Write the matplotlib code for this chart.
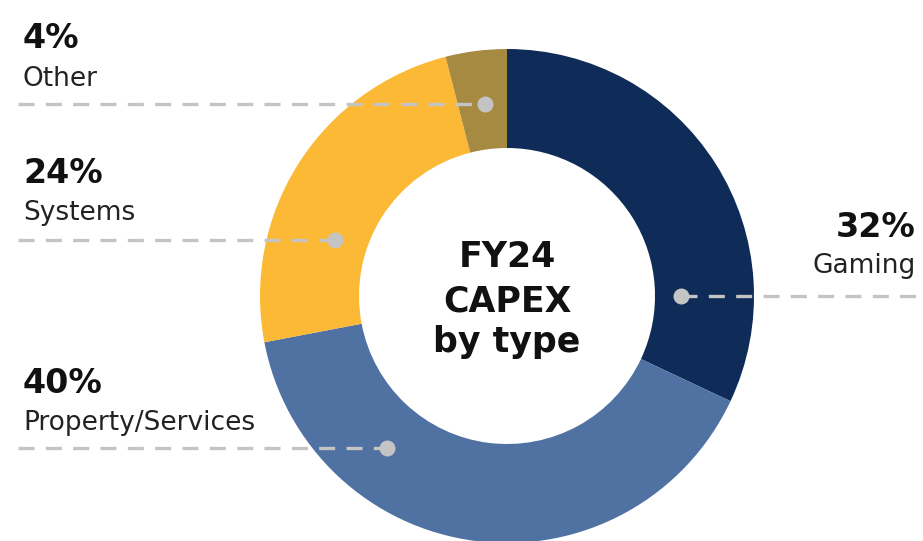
import matplotlib
matplotlib.use("Agg")
import matplotlib.pyplot as plt

# ---- data ----
categories = ["Gaming", "Property/Services", "Systems", "Other"]
shares = [32, 40, 24, 4]
colors = ["#0f2b58", "#5072a3", "#fcb936", "#a78a42"]
center_title = ["FY24", "CAPEX", "by type"]

W, H = 923, 541
FONT = "DejaVu Sans"

fig = plt.figure(figsize=(W / 100, H / 100), dpi=100)
ax = fig.add_axes([0, 0, 1, 1])

cx, cy, R, ring = 507, H - 296, 247, 99
ax.pie(shares, colors=colors, startangle=90, counterclock=False,
       radius=R, center=(cx, cy),
       wedgeprops=dict(width=ring, edgecolor="none", linewidth=0))

ax.set_xlim(0, W)
ax.set_ylim(0, H)
ax.set_aspect("equal")
ax.axis("off")

gray = "#c4c4c4"

# label layout: (dot x, line y, line x start, line x end, pct baseline, name baseline, text x, ha)
layout = {
    "Other": (485, 104, 18, 485, 48, 86, 23, "left"),
    "Systems": (335, 240, 18, 335, 183, 220, 23, "left"),
    "Property/Services": (387, 448, 18, 387, 393, 430, 23, "left"),
    "Gaming": (681, 296, 681, 923, 237, 273, 916, "right"),
}

for cat, val in zip(categories, shares):
    dx, ly, x0, x1, pb, nb, tx, ha = layout[cat]
    ax.plot([x0, x1], [H - ly, H - ly], color=gray, lw=2.4,
            dashes=(4.8, 3.4), solid_capstyle="butt", zorder=3)
    ax.plot(dx, H - ly, "o", color=gray, ms=11.5, mec="none", zorder=4)
    ax.text(tx, H - pb, f"{val}%", ha=ha, va="baseline", fontsize=24,
            fontweight="bold", family=FONT, color="#111111")
    ax.text(tx, H - nb, cat, ha=ha, va="baseline", fontsize=19,
            family=FONT, color="#222222")

for line, base in zip(center_title, [267, 312, 352]):
    ax.text(cx, H - base, line, ha="center", va="baseline", fontsize=25,
            fontweight="bold", family=FONT, color="#111111")

fig.savefig("out.png", dpi=100)
